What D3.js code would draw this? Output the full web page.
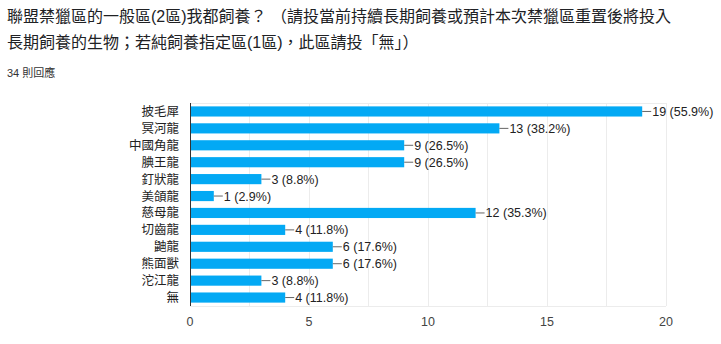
<!DOCTYPE html>
<html><head><meta charset="utf-8">
<script src="https://cdn.jsdelivr.net/npm/d3@7"></script>
<style>
body{margin:0;background:#fff;font-family:"Liberation Sans","Noto Sans CJK TC",sans-serif;}
</style></head>
<body><svg id="c" width="721" height="344"></svg>
<script>
const titleLines = ["聯盟禁獵區的一般區(2區)我都飼養？ （請投當前持續長期飼養或預計本次禁獵區重置後將投入","長期飼養的生物；若純飼養指定區(1區)，此區請投「無」）"];
const responses = "34 則回應";
const categories = ["披毛犀","冥河龍","中國角龍","腆王龍","釘狀龍","美頜龍","慈母龍","切齒龍","鼬龍","熊面獸","沱江龍","無"];
const values = [19,13,9,9,3,1,12,4,6,6,3,4];
const percents = ["55.9%","38.2%","26.5%","26.5%","8.8%","2.9%","35.3%","11.8%","17.6%","17.6%","8.8%","11.8%"];
const tickValues = [0,5,10,15,20];
const gridValues = [2.5,5,7.5,10,12.5,15,17.5,20];

const svg = d3.select("#c");
const font = '"Liberation Sans","Noto Sans CJK TC",sans-serif';
svg.selectAll("text.title").data(titleLines).join("text")
  .attr("x",7).attr("y",(d,i)=>22+i*26)
  .attr("font-size",16).attr("fill","#202124").attr("font-family",font).text(d=>d);
svg.append("text").attr("x",7).attr("y",77).attr("font-size",11).attr("fill","#333").attr("font-family",font).text(responses);

const x = d3.scaleLinear().domain([0,20]).range([190,666]);
const y = d3.scaleBand().domain(categories).range([103,306]).paddingInner(0.4).paddingOuter(0.2);

svg.selectAll("line.grid").data(gridValues).join("line")
  .attr("x1",d=>x(d)).attr("x2",d=>x(d)).attr("y1",103).attr("y2",306)
  .attr("stroke","#ececec").attr("stroke-width",1).attr("shape-rendering","crispEdges");
svg.append("line").attr("x1",190).attr("x2",666).attr("y1",103).attr("y2",103).attr("stroke","#ececec").attr("shape-rendering","crispEdges");
svg.append("line").attr("x1",190).attr("x2",666).attr("y1",306).attr("y2",306).attr("stroke","#ececec").attr("shape-rendering","crispEdges");

svg.selectAll("rect.bar").data(values).join("rect")
  .attr("x",x(0)).attr("y",(d,i)=>y(categories[i])).attr("width",d=>x(d)-x(0)).attr("height",y.bandwidth())
  .attr("fill","#03a9f4");

svg.selectAll("line.conn").data(values).join("line")
  .attr("x1",d=>x(d)).attr("x2",d=>x(d)+9)
  .attr("y1",(d,i)=>y(categories[i])+y.bandwidth()/2).attr("y2",(d,i)=>y(categories[i])+y.bandwidth()/2)
  .attr("stroke","#666").attr("stroke-width",1);
svg.selectAll("text.val").data(values).join("text")
  .attr("x",d=>x(d)+10).attr("y",(d,i)=>y(categories[i])+y.bandwidth()/2)
  .attr("dy","0.36em").attr("font-size",12.5).attr("fill","#222").attr("font-family",font)
  .text((d,i)=>d+" ("+percents[i]+")");

svg.selectAll("text.cat").data(categories).join("text")
  .attr("x",179).attr("y",d=>y(d)+y.bandwidth()/2).attr("dy","0.36em")
  .attr("text-anchor","end").attr("font-size",12.5).attr("fill","#222").attr("font-family",font).text(d=>d);

svg.append("line").attr("x1",190.5).attr("x2",190.5).attr("y1",103).attr("y2",306).attr("stroke","#333").attr("stroke-width",1);

svg.selectAll("text.tick").data(tickValues).join("text")
  .attr("x",d=>x(d)).attr("y",326).attr("text-anchor","middle")
  .attr("font-size",12.5).attr("fill","#444").attr("font-family",font).text(d=>d);
</script></body></html>
